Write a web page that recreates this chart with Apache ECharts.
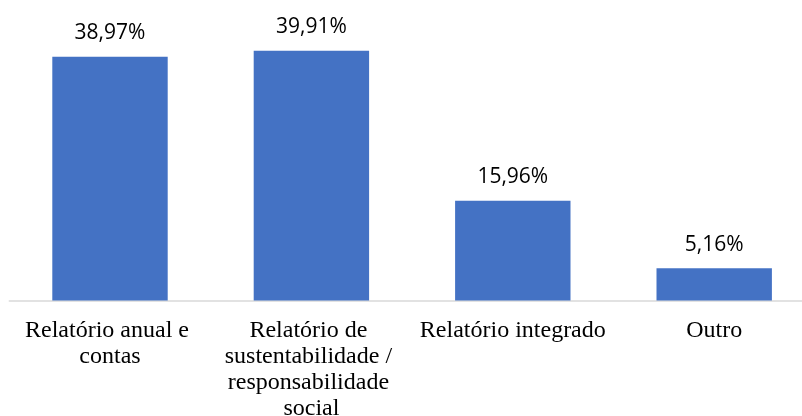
<!DOCTYPE html>
<html><head><meta charset="utf-8">
<script src="https://cdn.jsdelivr.net/npm/echarts@6/dist/echarts.min.js"></script>
<style>html,body{margin:0;padding:0;background:#fff}#c{width:802px;height:416px}</style>
</head><body><div id="c"></div>
<script>
var categories = ['Relatório anual e contas', 'Relatório de sustentabilidade / responsabilidade social', 'Relatório integrado', 'Outro'];
var values = [38.97, 39.91, 15.96, 5.16];

var chart = echarts.init(document.getElementById('c'), null, {renderer: 'canvas'});
chart.setOption({
  animation: false,
  grid: {left: 9.3, width: 805.6, top: 19, height: 281.5, containLabel: false, outerBoundsMode: 'none'},
  xAxis: {
    type: 'category',
    data: categories,
    axisLine: {lineStyle: {color: '#d9d9d9', width: 1.5}},
    axisTick: {show: false},
    axisLabel: {
      interval: 0,
      margin: 17.5,
      color: '#000',
      fontFamily: '"Liberation Serif", "Times New Roman", serif',
      fontSize: 24,
      lineHeight: 26,
      width: 205,
      overflow: 'break',
      align: 'center'
    }
  },
  yAxis: {
    type: 'value', min: 0, max: 45,
    show: false,
    splitLine: {show: false}
  },
  series: [{
    type: 'bar',
    data: values,
    barWidth: '57.3%',
    itemStyle: {color: '#4472C4'},
    label: {
      show: true,
      position: 'top',
      distance: 13,
      color: '#000',
      fontFamily: '"Open Sans", "Noto Sans", sans-serif',
      fontSize: 21,
      formatter: function (p) { return p.value.toFixed(2).replace('.', ',') + '%'; }
    }
  }]
});
</script>
</body></html>
